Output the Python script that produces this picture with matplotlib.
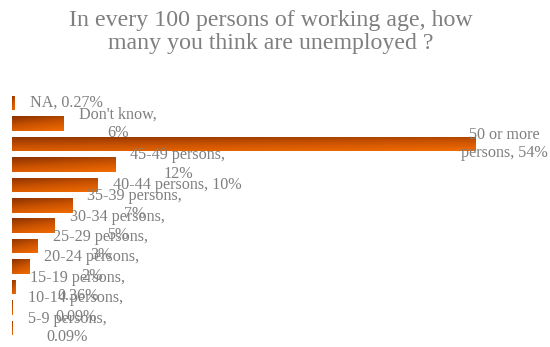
import numpy as np
import matplotlib
matplotlib.use("Agg")
import matplotlib.pyplot as plt
from matplotlib.colors import LinearSegmentedColormap

# survey answers, top to bottom
categories = ["NA", "Don't know", "50 or more\npersons", "45-49 persons", "40-44 persons",
              "35-39 persons", "30-34 persons", "25-29 persons", "20-24 persons",
              "15-19 persons", "10-14 persons", "5-9 persons"]
shares = [0.27, 6, 54, 12, 10, 7, 5, 3, 2, 0.36, 0.09, 0.09]
wrap_value = [False, True, False, True, False, True, True, True, True, True, True, True]

GREY = "#7f7f7f"
FONT = ["Liberation Serif", "DejaVu Serif"]

fig = plt.figure(figsize=(5.5, 3.47), dpi=100)
ax = fig.add_axes([12 / 550, (347 - 338.2) / 347, 536 / 550, (338.2 - 92.8) / 347])

y = np.arange(len(categories))
bars = ax.barh(y, shares, height=0.71, color="none", edgecolor="none")

xmax = 54 * 536 / 464

# diagonal dark-brown -> orange fill, clipped to each bar
grad = LinearSegmentedColormap.from_list("rust", ["#8a3200", "#c95200", "#f26c00"])
gy, gx = np.mgrid[0:1:40j, 0:1:80j]
shade = np.clip(0.72 * gy + 0.28 * gx, 0, 1)
for b in bars:
    x0, y0 = b.get_x(), b.get_y()
    w, h = b.get_width(), b.get_height()
    im = ax.imshow(shade, cmap=grad, extent=(x0, x0 + w, y0 + h, y0),
                   aspect="auto", origin="upper", interpolation="bilinear", zorder=2)
    im.set_clip_path(b)

ax.set_xlim(0, xmax)
ax.set_ylim(len(categories) - 0.5, -0.5)

for i, (cat, val, wrap) in enumerate(zip(categories, shares, wrap_value)):
    txt = f"{cat},{chr(10) if wrap else ' '}{val:g}%"
    style = dict(va="center", ma="center", color=GREY, fontsize=11.6,
                 family=FONT, zorder=3, linespacing=1.2)
    if val == max(shares):
        ax.annotate(txt, xy=(xmax, i), ha="right", annotation_clip=False, **style)
    else:
        ax.annotate(txt, xy=(val, i), xytext=(11, 0), textcoords="offset points",
                    ha="left", **style)

ax.axis("off")

fig.text(0.492, 0.907, "In every 100 persons of working age, how\nmany you think are unemployed ?",
         ha="center", va="center", ma="center", color=GREY, fontsize=17.2, family=FONT,
         linespacing=1.15)

fig.savefig("out.png", dpi=100)
